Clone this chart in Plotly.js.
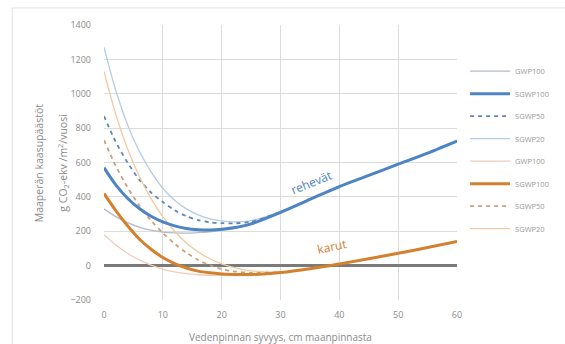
<!DOCTYPE html>
<html>
<head>
<meta charset="utf-8">
<script src="https://cdn.plot.ly/plotly-3.0.1.min.js"></script>
<style>html,body{margin:0;padding:0;background:#f4f4f4;}#chart{width:565px;height:344px;}</style>
</head>
<body>
<div id="chart"></div>
<script>
// Water table depth (cm below ground surface)
const depth = [0, 2, 4, 6, 8, 10, 12, 14, 16, 18, 20, 22, 25, 30, 35, 40, 45, 50, 55, 60];

// Rehevät (nutrient-rich) – g CO2-ekv / m2 / vuosi
const rehGWP100  = [330, 285, 250, 224, 206, 195, 190, 189, 192, 197, 205, 216, 240, 308, 384, 460, 525, 590, 655, 725];
const rehSGWP100 = [570, 470, 392, 332, 287, 254, 231, 216, 209, 207, 211, 220, 243, 310, 385, 460, 525, 590, 655, 725];
const rehSGWP50  = [870, 720, 600, 500, 425, 370, 322, 288, 265, 252, 247, 246, 255, 312, 386, 460, 525, 590, 655, 725];
const rehSGWP20  = [1270, 1020, 820, 665, 545, 450, 380, 330, 295, 272, 260, 255, 262, 314, 387, 460, 525, 590, 655, 725];

// Karut (nutrient-poor)
const karGWP100  = [180, 120, 72, 33, 3, -20, -36, -47, -53, -56, -57, -57, -55, -41, -18, 10, 40, 72, 105, 140];
const karSGWP100 = [420, 320, 232, 155, 95, 47, 12, -14, -32, -42, -48, -51, -52, -40, -18, 10, 40, 72, 105, 140];
const karSGWP50  = [730, 580, 455, 350, 262, 190, 128, 75, 33, 2, -20, -33, -42, -38, -18, 10, 40, 72, 105, 140];
const karSGWP20  = [1130, 880, 680, 520, 390, 285, 200, 132, 80, 40, 10, -10, -30, -38, -17, 10, 40, 72, 105, 140];

const seriesNames = ["GWP100", "SGWP100", "SGWP50", "SGWP20", "GWP100", "SGWP100", "SGWP50", "SGWP20"];
const seriesData = [rehGWP100, rehSGWP100, rehSGWP50, rehSGWP20, karGWP100, karSGWP100, karSGWP50, karSGWP20];
const seriesStyle = [
  {color: "#b3bcc8", width: 1.3, dash: "solid"},
  {color: "#4d84c4", width: 3, dash: "solid"},
  {color: "#5f88b8", width: 1.8, dash: "4px,4px"},
  {color: "#b4cce6", width: 1.3, dash: "solid"},
  {color: "#efcdb8", width: 1.3, dash: "solid"},
  {color: "#d4812f", width: 3, dash: "solid"},
  {color: "#c9a07c", width: 1.8, dash: "4px,4px"},
  {color: "#f2caa2", width: 1.3, dash: "solid"}
];
// draw order: thin ones first so thick lines sit on top
const drawOrder = [0, 3, 2, 4, 7, 6, 1, 5];

const traces = seriesNames.map((n, i) => ({
  x: depth, y: seriesData[i], name: n, type: "scatter", mode: "lines",
  line: {color: seriesStyle[i].color, width: seriesStyle[i].width, dash: seriesStyle[i].dash, shape: "spline", smoothing: 0.8},
  legendgroup: "g" + i, legendrank: i + 1
}));
const ordered = drawOrder.map(i => traces[i]);

const grid = "#dcdcdc";
const titleColor = "#8a8a8a";
const layout = {
  width: 565, height: 344,
  margin: {l: 104, r: 107, t: 25, b: 44},
  paper_bgcolor: "#ffffff", plot_bgcolor: "#ffffff",
  font: {family: "Open Sans, Liberation Sans, sans-serif", size: 9, color: "#8a8a8a"},
  xaxis: {
    range: [0, 60], tickvals: [0, 10, 20, 30, 40, 50, 60], showgrid: true, gridcolor: grid, gridwidth: 1,
    zeroline: false, showline: false, ticks: "", tickfont: {size: 9, color: "#8a8a8a"}, ticklabelstandoff: 8,
    title: {text: "Vedenpinnan syvyys, cm maanpinnasta", font: {size: 10, color: titleColor}, standoff: 14}
  },
  yaxis: {
    range: [-200, 1400], tickvals: [-200, 0, 200, 400, 600, 800, 1000, 1200, 1400], showgrid: true, gridcolor: grid,
    zeroline: true, zerolinecolor: "#7a7a7a", zerolinewidth: 2.5, showline: false, ticks: "",
    tickfont: {size: 9, color: "#8a8a8a"}, ticklabelstandoff: 12
  },
  legend: {x: 1.02, y: 0.885, xanchor: "left", yanchor: "top", font: {size: 7.5, color: "#999999"},
           bgcolor: "rgba(0,0,0,0)", tracegroupgap: 3.5, traceorder: "grouped", itemwidth: 40},
  annotations: [
    {x: 35.2, y: 483, xref: "x", yref: "y", text: "rehevät", showarrow: false, textangle: -22,
     font: {size: 12, color: "#4d84c4"}},
    {x: 38.7, y: 110, xref: "x", yref: "y", text: "karut", showarrow: false, textangle: -12,
     font: {size: 12, color: "#d4812f"}},
    {x: -0.209, y: 0.498, xref: "paper", yref: "paper", text: "Maaperän kaasupäästöt", showarrow: false,
     textangle: -90, font: {size: 10.5, color: titleColor}},
    {x: -0.147, y: 0.498, xref: "paper", yref: "paper", text: "g CO<sub>2</sub>-ekv /m<sup>2</sup>/vuosi", showarrow: false,
     textangle: -90, font: {size: 10.5, color: titleColor}}
  ],
  shapes: [
    {type: "rect", xref: "paper", yref: "paper", x0: -0.26, x1: 1.4, y0: -0.2, y1: 1.062,
     line: {color: "#e2e2e2", width: 1}, fillcolor: "rgba(0,0,0,0)", layer: "below"}
  ]
};
Plotly.newPlot("chart", ordered, layout, {displayModeBar: false, staticPlot: true});
</script>
</body>
</html>
